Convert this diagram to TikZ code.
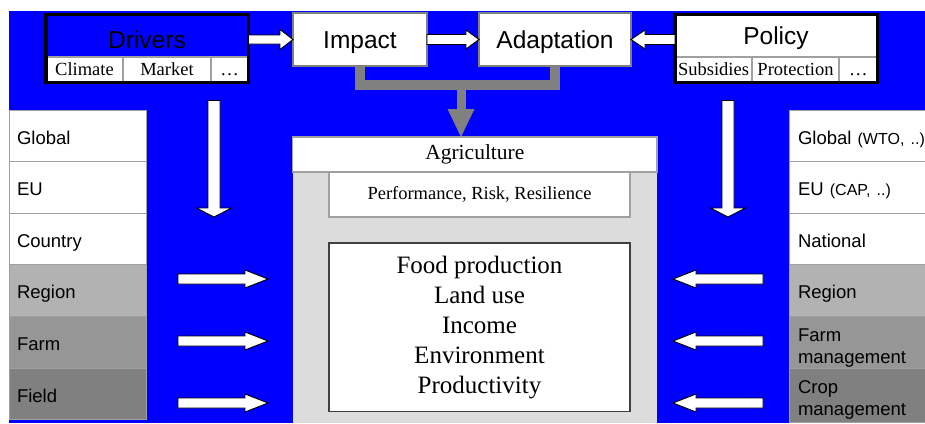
\documentclass[tikz,border=0pt]{standalone}
\usepackage{fontspec}
\setmainfont{Liberation Serif}
\newfontfamily\arialf{Liberation Sans}
\usetikzlibrary{calc}
\definecolor{bgblue}{HTML}{0000FF}
\definecolor{shadeA}{HTML}{B2B2B2}
\definecolor{shadeB}{HTML}{969696}
\definecolor{shadeC}{HTML}{808080}
\definecolor{panelgray}{HTML}{DCDCDC}
\definecolor{edgegray}{HTML}{A0A0A0}
\definecolor{forkgray}{HTML}{808080}
\begin{document}
\begin{tikzpicture}[x=1pt,y=-1pt,
  box/.style={draw=edgegray, line width=1.2pt, inner sep=0pt, outer sep=0pt, anchor=north west},
  bigsans/.style={font=\arialf\fontsize{24.5}{29}\selectfont},
  smallserif/.style={font=\fontsize{18.5}{22}\selectfont},
  cell/.style={draw=edgegray, line width=0.8pt, outer sep=0pt, anchor=north west,
     minimum height=51.6pt, align=left, font=\arialf\fontsize{18.5}{22}\selectfont},
  one/.style={text height=16.5pt, text depth=0pt},
  lcell/.style={cell, minimum width=137pt, text width=121pt, inner xsep=8pt},
  rcell/.style={cell, minimum width=158pt, text width=140pt, inner xsep=9pt},
  frame/.style={draw=black, line width=3.3pt, inner sep=0pt, outer sep=0pt, anchor=north west},
  blockarrow/.style={draw=black, fill=white, line width=0.9pt, line join=miter},
  barrow/.style n args={3}{to path={
    ($(\tikztostart)!#1!90:(\tikztotarget)$) --
    ($(\tikztotarget)!#3!(\tikztostart)!#1!-90:(\tikztostart)$) --
    ($(\tikztotarget)!#3!(\tikztostart)!#2!-90:(\tikztostart)$) --
    (\tikztotarget) --
    ($(\tikztotarget)!#3!(\tikztostart)!#2!90:(\tikztostart)$) --
    ($(\tikztotarget)!#3!(\tikztostart)!#1!90:(\tikztostart)$) --
    ($(\tikztostart)!#1!-90:(\tikztotarget)$) -- cycle}},
  fork/.style={draw=forkgray, line width=10pt, line join=miter, line cap=butt},
]
\useasboundingbox (0,0) rectangle (925,423);
% background
\fill[bgblue] (9,11) rectangle (925,423);

% agriculture panel
\fill[panelgray] (292.7,137) rectangle (657,423);
\node[box, fill=white, minimum width=364.3pt, minimum height=35pt,
      font=\fontsize{21.5}{26}\selectfont] (agri) at (292.7,137) {Agriculture};
\node[box, fill=white, minimum width=301pt, minimum height=45pt,
      font=\fontsize{18.5}{22}\selectfont] (perf) at (329,172) {Performance, Risk, Resilience};
\node[box, draw=black!75, fill=white, minimum width=301pt, minimum height=168.7pt,
      align=center, font=\fontsize{25}{30}\selectfont] (outc) at (329,243)
      {Food production\\Land use\\Income\\Environment\\Productivity};

% left column
\node[lcell, one, fill=white]  (lglob)   at (9,110)   {Global};
\node[lcell, one, fill=white]  (leu)     at (9,161.6) {EU};
\node[lcell, one, fill=white]  (lcntry)  at (9,213.2) {Country};
\node[lcell, one, fill=shadeA] (lreg)    at (9,264.8) {Region};
\node[lcell, one, fill=shadeB] (lfarm)   at (9,316.4) {Farm};
\node[lcell, one, fill=shadeC] (lfield)  at (9,368)   {Field};

% right column
\node[rcell, one, fill=white]  (rglob)   at (789,110)   {Global {\fontsize{16}{19}\selectfont(WTO, ..)}};
\node[rcell, one, fill=white]  (reu)     at (789,161.6) {EU {\fontsize{16}{19}\selectfont(CAP, ..)}};
\node[rcell, one, fill=white]  (rnat)    at (789,213.2) {National};
\node[rcell, one, fill=shadeA] (rreg)    at (789,264.8) {Region};
\node[rcell, fill=shadeB] (rfarm)   at (789,316.4) {\rule{0pt}{22pt}Farm\\management};
\node[rcell, fill=shadeC] (rcrop)   at (789,368)   {\rule{0pt}{22pt}Crop\\management};

% Impact and Adaptation
\node[box, draw=shadeC, fill=white, minimum width=134pt, minimum height=53pt,
      bigsans, text height=17.5pt, text depth=0pt] (imp) at (293,13) {Impact};
\node[box, draw=shadeC, fill=white, minimum width=152pt, minimum height=53pt,
      bigsans, text height=17.5pt, text depth=0pt] (adp) at (479,13) {Adaptation};

% Drivers box
\node[box, fill=white, minimum width=77pt, minimum height=25pt, smallserif] (clim) at (46,57) {Climate};
\node[box, fill=white, minimum width=88pt, minimum height=25pt, smallserif] (mark) at (123,57) {Market};
\node[box, fill=white, minimum width=37.3pt, minimum height=25pt, smallserif, text height=12pt, text depth=0pt] (ddots) at (211,57) {…};
\node[frame, minimum width=202.3pt, minimum height=68pt] (drv) at (46,14.3) {};
\node[bigsans, anchor=base] (drvt) at (147,48.3) {Drivers};

% Policy box
\node[frame, fill=white, minimum width=202.7pt, minimum height=68pt] (pol) at (675,14.3) {};
\node[box, fill=white, minimum width=77pt, minimum height=25pt, smallserif] (subs) at (675,57) {Subsidies};
\node[box, fill=white, minimum width=87pt, minimum height=25pt, smallserif] (prot) at (752,57) {Protection};
\node[box, fill=white, minimum width=38.7pt, minimum height=25pt, smallserif, text height=12pt, text depth=0pt] (pdots) at (839,57) {…};
\node[frame, minimum width=202.7pt, minimum height=68pt] (polf) at (675,14.3) {};
\node[bigsans, anchor=base] (polt) at (776,44.3) {Policy};

% top block arrows
\draw[blockarrow, barrow={4.5pt}{10pt}{13pt}] (drv.east |- imp.west) to (imp.west);
\draw[blockarrow, barrow={5pt}{9.5pt}{13pt}] (imp.east) to (adp.west);
\draw[blockarrow, barrow={5pt}{9.5pt}{14pt}] (polf.west |- adp.east) to (adp.east);

% down arrows
\coordinate (ddtail) at (214,100.5);
\coordinate (ddtip)  at (214,217);
\coordinate (pdtail) at (728,100.5);
\coordinate (pdtip)  at (728,217);
\draw[blockarrow, barrow={6pt}{17.5pt}{9pt}] (ddtail) to (ddtip);
\draw[blockarrow, barrow={6pt}{17.5pt}{9pt}] (pdtail) to (pdtip);

% side arrows
\foreach \yy/\nm in {279/a, 341/b, 403/c} {
  \coordinate (lt\nm) at (178,\yy);
  \coordinate (lh\nm) at (268,\yy);
  \coordinate (rt\nm) at (763,\yy);
  \coordinate (rh\nm) at (673,\yy);
}
\foreach \nm in {a,b,c} {
  \draw[blockarrow, barrow={5pt}{9pt}{23pt}] (lt\nm) to (lh\nm);
  \draw[blockarrow, barrow={5pt}{9pt}{23pt}] (rt\nm) to (rh\nm);
}

% grey fork arrow
\draw[fork] (imp.south) -- ++(0,19) -| (adp.south);
\coordinate (fk) at (461,85);
\draw[draw=forkgray, line width=9pt] (fk) -- (fk |- 0,110);
\fill[forkgray] ($(fk |- agri.north)+(-13.5,-28)$) -- ($(fk |- agri.north)+(13.5,-28)$) -- (fk |- agri.north) -- cycle;
\end{tikzpicture}
\end{document}
